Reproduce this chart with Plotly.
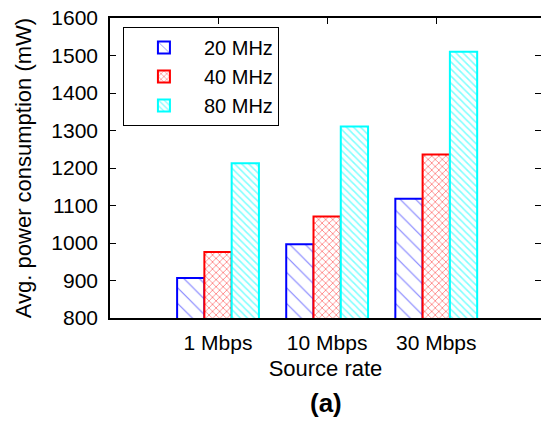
import plotly.graph_objects as go

categories = ["1 Mbps", "10 Mbps", "30 Mbps"]
series_names = ["20 MHz", "40 MHz", "80 MHz"]
vals_20 = [907, 997, 1118]
vals_40 = [976, 1071, 1236]
vals_80 = [1213, 1311, 1510]
y_ticks = [800, 900, 1000, 1100, 1200, 1300, 1400, 1500, 1600]

FONT = "Liberation Sans, Arial, Helvetica, sans-serif"
styles = [
    dict(color="#0000ff", shape="\\", size=11, solidity=0.1),
    dict(color="#ff0000", shape="x", size=5, solidity=0.3),
    dict(color="#00ffff", shape="\\", size=5, solidity=0.3),
]

fig = go.Figure()
for name, vals, st in zip(series_names, [vals_20, vals_40, vals_80], styles):
    fig.add_trace(go.Bar(
        x=categories, y=vals, name=name,
        marker=dict(
            color="white",
            line=dict(color=st["color"], width=2),
            pattern=dict(shape=st["shape"], fgcolor=st["color"], bgcolor="white",
                         size=st["size"], solidity=st["solidity"], fillmode="overlay"),
        ),
    ))

# invisible trace for the right-side mirrored ticks
fig.add_trace(go.Scatter(x=categories, y=vals_20, yaxis="y2", mode="none",
                         showlegend=False, hoverinfo="skip"))

fig.update_layout(
    width=541, height=423,
    margin=dict(l=110, r=0, t=18, b=105),
    paper_bgcolor="white", plot_bgcolor="white",
    barmode="group", bargap=0.25, bargroupgap=0,
    font=dict(family=FONT, size=21, color="black"),
    showlegend=True,
    legend=dict(x=0.03, y=0.97, xanchor="left", yanchor="top",
                bordercolor="black", borderwidth=1, bgcolor="white",
                font=dict(size=20), tracegroupgap=0, itemwidth=70),
    xaxis=dict(
        type="category", range=[-0.99, 2.96],
        showline=True, linecolor="black", linewidth=1.5, mirror="ticks",
        ticks="inside", ticklen=6, tickcolor="black", layer="below traces",
        showgrid=False, tickfont=dict(size=21), ticklabelstandoff=5,
        title=dict(text="Source rate", font=dict(size=22), standoff=8),
    ),
    yaxis=dict(
        range=[800, 1600], tickvals=y_ticks,
        showline=True, linecolor="black", linewidth=1.5,
        ticks="inside", ticklen=6, tickcolor="black",
        showgrid=False, zeroline=False, tickfont=dict(size=21),
        ticklabelstandoff=6,
        title=dict(text="Avg. power consumption (mW)", font=dict(size=22), standoff=14),
    ),
    yaxis2=dict(
        overlaying="y", side="right", matches="y", range=[800, 1600], tickvals=y_ticks,
        showline=False, ticks="inside", ticklen=6, tickcolor="black",
        showticklabels=False, showgrid=False, zeroline=False,
    ),
    annotations=[dict(text="<b>(a)</b>", x=0.5, xref="paper", y=-0.283, yref="paper",
                      xanchor="center", yanchor="middle", showarrow=False,
                      font=dict(size=26, family=FONT))],
)

fig.write_html("out.html")
